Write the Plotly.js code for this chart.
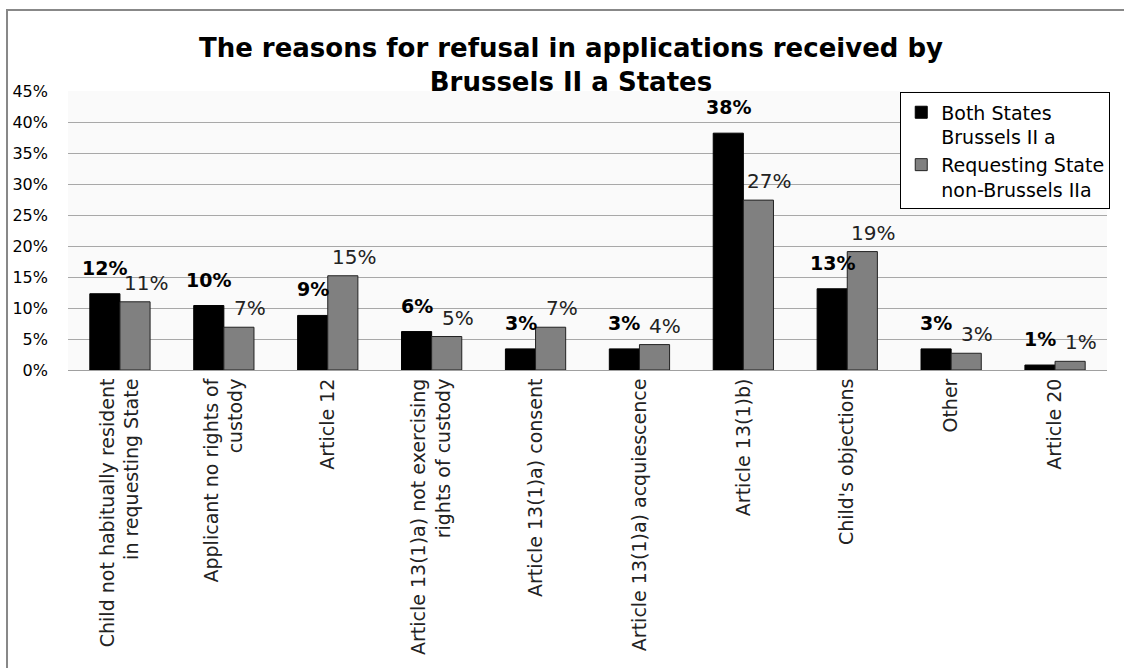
<!DOCTYPE html>
<html>
<head>
<meta charset="utf-8">
<script src="https://cdn.plot.ly/plotly-3.0.1.min.js"></script>
<style>html,body{margin:0;padding:0;background:#fff;}#chart{width:1124px;height:668px;}</style>
</head>
<body>
<div id="chart"></div>
<script>
var categories = [
  "Child not habitually resident<br>in requesting State",
  "Applicant no rights of<br>custody",
  "Article 12",
  "Article 13(1)a) not exercising<br>rights of custody",
  "Article 13(1)a) consent",
  "Article 13(1)a) acquiescence",
  "Article 13(1)b)",
  "Child's objections",
  "Other",
  "Article 20"
];
var bothStates = [12.3, 10.4, 8.8, 6.2, 3.4, 3.4, 38.2, 13.1, 3.4, 0.8];
var requestingNonBrussels = [11.0, 6.9, 15.2, 5.4, 6.9, 4.1, 27.4, 19.1, 2.7, 1.4];
var seriesNames = ["Both States<br>Brussels II a", "Requesting State<br>non-Brussels IIa"];
var yTickVals = [0, 5, 10, 15, 20, 25, 30, 35, 40, 45];
var yTickText = ["0%", "5%", "10%", "15%", "20%", "25%", "30%", "35%", "40%", "45%"];

function pct(v){ return Math.round(v) + "%"; }

var traces = [
  {
    type: "bar", name: seriesNames[0], x: categories, y: bothStates,
    marker: {color: "#000000", line: {color: "#000000", width: 1}},
    hoverinfo: "skip"
  },
  {
    type: "bar", name: seriesNames[1], x: categories, y: requestingNonBrussels,
    marker: {color: "#808080", line: {color: "#222222", width: 1}},
    hoverinfo: "skip"
  }
];

var annotations = [];
categories.forEach(function(c, i){
  annotations.push({
    x: c, y: bothStates[i], xref: "x", yref: "y",
    text: "<b>" + pct(bothStates[i]) + "</b>", showarrow: false,
    xanchor: "center", yanchor: "bottom", xshift: -15, yshift: 13,
    font: {family: "DejaVu Sans", size: 19, color: "#000"}
  });
  annotations.push({
    x: c, y: requestingNonBrussels[i], xref: "x", yref: "y",
    text: pct(requestingNonBrussels[i]), showarrow: false,
    xanchor: "center", yanchor: "bottom", xshift: 26, yshift: 5,
    font: {family: "DejaVu Sans", size: 20, color: "#222"}
  });
});

var layout = {
  width: 1124, height: 668,
  margin: {l: 68, r: 17, t: 91, b: 298},
  paper_bgcolor: "#ffffff",
  plot_bgcolor: "#fafafa",
  barmode: "group",
  bargap: 0.42,
  bargroupgap: 0,
  font: {family: "DejaVu Sans", color: "#000"},
  title: {
    text: "<b>The reasons for refusal in applications received by<br>Brussels II a States</b>",
    font: {family: "DejaVu Sans", size: 26, color: "#000"},
    x: 0.508, xanchor: "center", y: 0.915, yanchor: "top"
  },
  xaxis: {
    type: "category",
    tickangle: -90,
    tickfont: {family: "DejaVu Sans", size: 19, color: "#222"},
    showline: true, linecolor: "#a0a0a0", linewidth: 1,
    ticks: "", showgrid: false
  },
  yaxis: {
    range: [0, 45],
    tickvals: yTickVals, ticktext: yTickText,
    tickfont: {family: "DejaVu Sans", size: 16, color: "#000"},
    showgrid: true, gridcolor: "#a8a8a8", gridwidth: 1,
    showline: false, zeroline: false, ticks: "",
    ticklabelstandoff: 19
  },
  legend: {
    x: 0.801, y: 0.995, xanchor: "left", yanchor: "top",
    bgcolor: "#ffffff", bordercolor: "#000000", borderwidth: 1,
    font: {family: "DejaVu Sans", size: 19, color: "#000"},
    itemwidth: 30, tracegroupgap: 0, valign: "top"
  },
  annotations: annotations,
  shapes: [
    {type: "rect", xref: "paper", yref: "paper", x0: -0.0587, x1: 1.2, y0: -2, y1: 1.29,
     line: {color: "#888888", width: 2}, fillcolor: "rgba(0,0,0,0)", layer: "below"}
  ],
  showlegend: true
};

Plotly.newPlot("chart", traces, layout, {staticPlot: true});
</script>
</body>
</html>
